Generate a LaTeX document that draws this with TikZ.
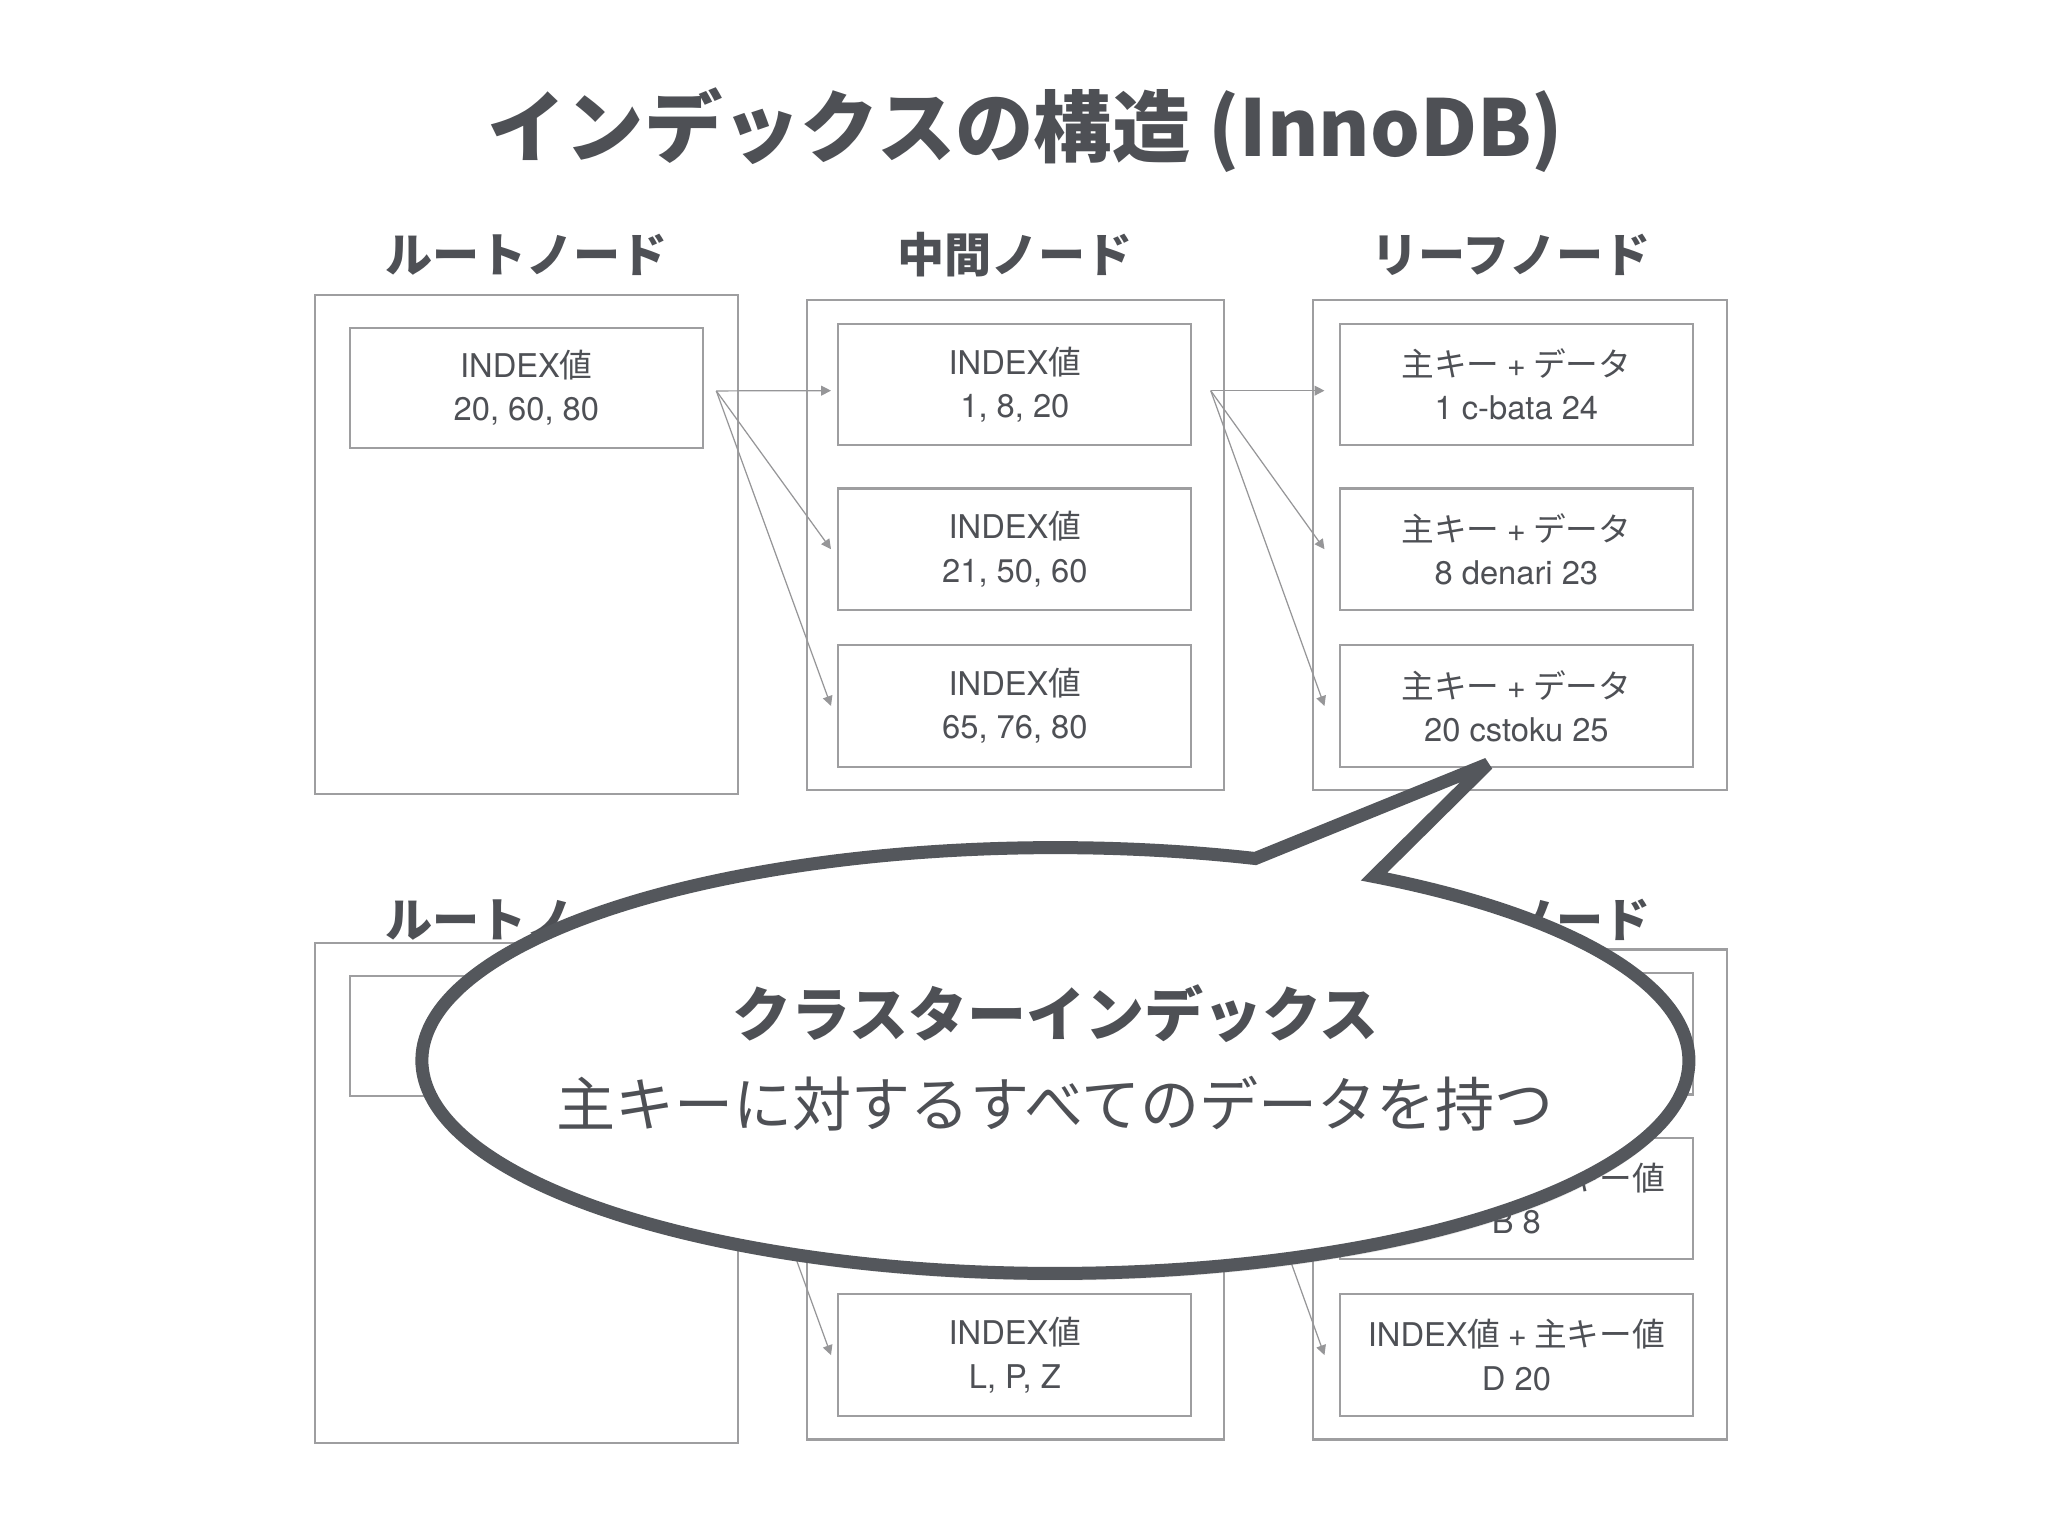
\documentclass[tikz,border=0pt]{standalone}
\usepackage{fontspec}
\setmainfont{Noto Sans CJK JP}
\newfontfamily\heros{TeX Gyre Heros}
\usetikzlibrary{arrows.meta,positioning,calc,shadows}
\definecolor{ink}{RGB}{78,80,85}
\definecolor{framegray}{RGB}{158,158,160}
\definecolor{arrowgray}{RGB}{150,150,152}
\definecolor{bubblegray}{RGB}{84,87,92}

\begin{document}
\begin{tikzpicture}[x=0.01306cm, y=-0.01306cm, text=ink,
    box/.style={rectangle, draw=framegray, line width=0.6pt, inner sep=0pt},
    cell/.style={box, minimum width=3.53cm, minimum height=1.215cm, align=center,
                 font=\fontsize{9.3}{12.3}\selectfont},
    hd/.style={font=\bfseries\fontsize{13.4}{16}\selectfont},
    arr/.style={-{Triangle[length=2.8pt,width=2.8pt]}, draw=arrowgray, line width=0.35pt}]
\fill[white] (0,0) rectangle (1568,1176);
\useasboundingbox (0,0) rectangle (1568,1176);

% title
\node[font=\bfseries\fontsize{22.3}{26}\selectfont] (title) at (785,100) {インデックスの構造 (InnoDB)};

% upper tree
\node[hd] (hroot) at (403,195) {ルートノード};
\node[hd] (hmid) at (777,195) {中間ノード};
\node[hd] (hleaf) at (1157,195) {リーフノード};

\node[box, minimum width=4.23cm, minimum height=4.99cm] (rootbox) at (403,417) {};
\node[cell, minimum height=1.2cm] (root) at (403,297) {{\heros INDEX}値\\{\heros 20, 60, 80}};

\node[box, minimum width=4.17cm, minimum height=4.9cm] (midbox) at (777.5,417.5) {};
\node[cell] (mid1) at (777,294.5) {{\heros INDEX}値\\{\heros 1, 8, 20}};
\node[cell] (mid2) at (777,420.5) {{\heros INDEX}値\\{\heros 21, 50, 60}};
\node[cell] (mid3) at (777,540.5) {{\heros INDEX}値\\{\heros 65, 76, 80}};

\node[box, minimum width=4.14cm, minimum height=4.9cm] (leafbox) at (1163.5,417.5) {};
\node[cell] (leaf1) at (1161,294.5) {主キー {\heros +} データ\\{\heros 1 c-bata 24}};
\node[cell] (leaf2) at (1161,420.5) {主キー {\heros +} データ\\{\heros 8 denari 23}};
\node[cell] (leaf3) at (1161,540.5) {主キー {\heros +} データ\\{\heros 20 cstoku 25}};

\draw[arr] ([xshift=0.124cm,yshift=-0.03cm]root.east) -- ([xshift=-0.063cm,yshift=-0.06cm]mid1.west);
\draw[arr] ([xshift=0.124cm,yshift=-0.03cm]root.east) -- ([xshift=-0.063cm]mid2.west);
\draw[arr] ([xshift=0.124cm,yshift=-0.03cm]root.east) -- ([xshift=-0.063cm]mid3.west);
\draw[arr] ([xshift=0.183cm,yshift=-0.06cm]mid1.east) -- ([xshift=-0.144cm,yshift=-0.06cm]leaf1.west);
\draw[arr] ([xshift=0.183cm,yshift=-0.06cm]mid1.east) -- ([xshift=-0.144cm]leaf2.west);
\draw[arr] ([xshift=0.183cm,yshift=-0.06cm]mid1.east) -- ([xshift=-0.144cm]leaf3.west);

% lower tree
\node[hd] (hrootB) at (403,704) {ルートノード};
\node[hd] (hmidB) at (777,704) {中間ノード};
\node[hd] (hleafB) at (1157,704) {リーフノード};

\node[box, minimum width=4.23cm, minimum height=5.0cm] (rootboxB) at (403,913.5) {};
\node[cell, minimum height=1.2cm] (rootB) at (403,793.5) {};

\node[box, minimum width=4.17cm, minimum height=4.9cm] (midboxB) at (777.5,914.5) {};
\node[cell] (mid1B) at (777,791.5) {};
\node[cell] (mid2B) at (777,917.5) {};
\node[cell] (mid3B) at (777,1037.5) {{\heros INDEX}値\\{\heros L, P, Z}};

\node[box, minimum width=4.14cm, minimum height=4.9cm] (leafboxB) at (1163.5,914.5) {};
\node[cell] (leaf1B) at (1161,791.5) {};
\node[cell] (leaf2B) at (1161,917.5) {{\heros INDEX}値 {\heros +} 主キー値\\{\heros B 8}};
\node[cell] (leaf3B) at (1161,1037.5) {{\heros INDEX}値 {\heros +} 主キー値\\{\heros D 20}};

\draw[arr] ([xshift=0.124cm,yshift=-0.03cm]rootB.east) -- ([xshift=-0.063cm,yshift=-0.06cm]mid1B.west);
\draw[arr] ([xshift=0.124cm,yshift=-0.03cm]rootB.east) -- ([xshift=-0.063cm]mid2B.west);
\draw[arr] ([xshift=0.124cm,yshift=-0.03cm]rootB.east) -- ([xshift=-0.063cm]mid3B.west);
\draw[arr] ([xshift=0.183cm,yshift=-0.06cm]mid1B.east) -- ([xshift=-0.144cm,yshift=-0.06cm]leaf1B.west);
\draw[arr] ([xshift=0.183cm,yshift=-0.06cm]mid1B.east) -- ([xshift=-0.144cm]leaf2B.west);
\draw[arr] ([xshift=0.183cm,yshift=-0.06cm]mid1B.east) -- ([xshift=-0.144cm]leaf3B.west);

% speech bubble
\path[draw=bubblegray, fill=white, line width=3.7pt, miter limit=3,
      drop shadow={shadow xshift=0.02cm, shadow yshift=-0.07cm, opacity=0.18}]
  (1052,671.1) arc[start angle=-59.8, end angle=288.39, x radius=485, y radius=163]
  -- (1139,585) -- cycle;
\node[font=\bfseries\fontsize{16.8}{20}\selectfont] (ctitle) at (808,776) {クラスターインデックス};
\node[font=\fontsize{16.8}{20}\selectfont] (cdesc) at (808,845) {主キーに対するすべてのデータを持つ};
\end{tikzpicture}
\end{document}
